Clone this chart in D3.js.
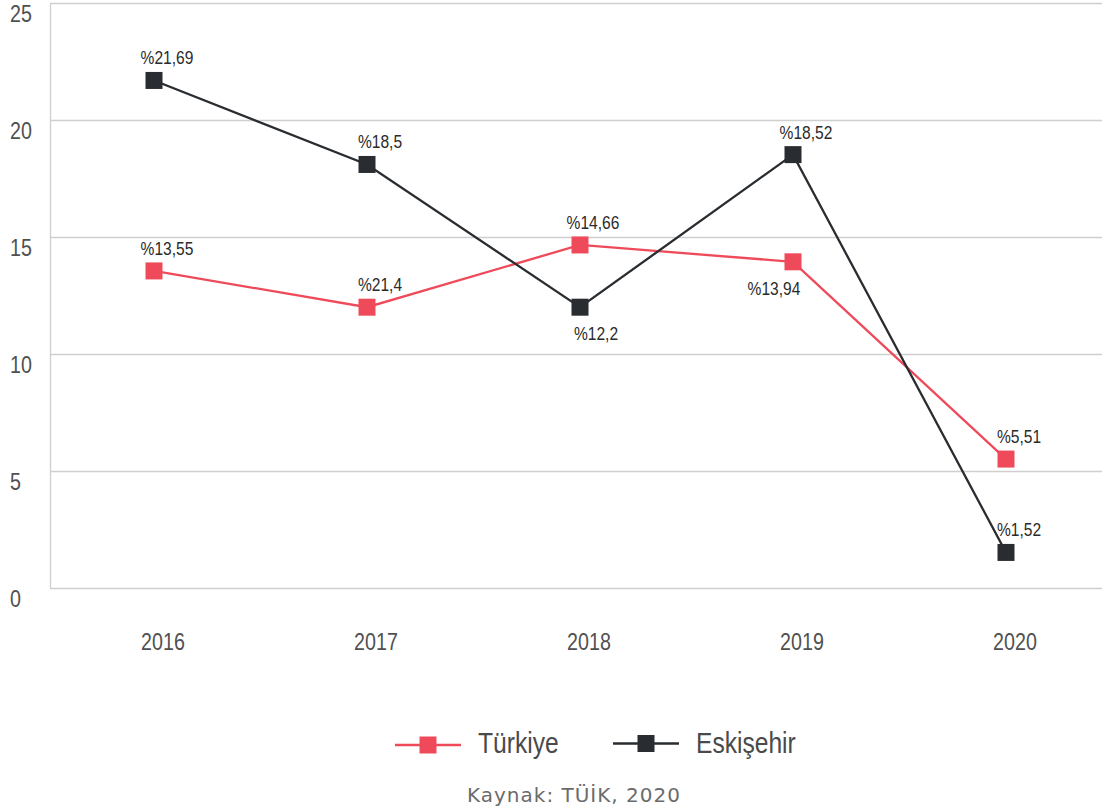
<!DOCTYPE html>
<html>
<head>
<meta charset="utf-8">
<script src="https://cdn.jsdelivr.net/npm/d3@7"></script>
<style>
  html, body { margin: 0; padding: 0; background: #fff; }
  svg { display: block; }
  .chart text { font-family: "Liberation Sans", Arial, sans-serif; }
</style>
</head>
<body>
<svg class="chart" width="1102" height="812"></svg>
<script>
// yıllar ve seriler
var years = ["2016", "2017", "2018", "2019", "2020"];
var turkiye = [13.55, 12.0, 14.66, 13.94, 5.51];
var eskisehir = [21.69, 18.1, 12.0, 18.52, 1.52];
var turkiyeLabels = ["%13,55", "%21,4", "%14,66", "%13,94", "%5,51"];
var eskisehirLabels = ["%21,69", "%18,5", "%12,2", "%18,52", "%1,52"];
var yTicks = [0, 5, 10, 15, 20, 25];
var seriesNames = ["Türkiye", "Eskişehir"];
var source = "Kaynak: TÜİK, 2020";

var svg = d3.select("svg"),
    width = +svg.attr("width"),
    height = +svg.attr("height");

var mLeft = 50, mRight = 1102, mTop = 3, mBottom = 588;
var narrow = 0.82; // squeeze to look like a condensed face

var x = d3.scalePoint()
    .domain(years)
    .range([154, 1006]);

var y = d3.scaleLinear()
    .domain([0, 25])
    .range([mBottom, mTop]);

var red = "#ef4a5a", dark = "#292d31";

function place(px, py) {
  return "translate(" + px + "," + py + ") scale(" + narrow + ",1)";
}

// grid
svg.append("g")
  .selectAll("line")
  .data(yTicks)
  .join("line")
    .attr("x1", mLeft)
    .attr("x2", mRight)
    .attr("y1", d => Math.round(y(d)) + 0.5)
    .attr("y2", d => Math.round(y(d)) + 0.5)
    .attr("stroke", "#cfcfcf")
    .attr("stroke-width", 1.3);

svg.append("line")
    .attr("x1", mLeft + 0.5).attr("x2", mLeft + 0.5)
    .attr("y1", y(25)).attr("y2", y(0))
    .attr("stroke", "#cfcfcf")
    .attr("stroke-width", 1.3);

// y labels hang under the grid line
svg.append("g")
  .selectAll("text")
  .data(yTicks)
  .join("text")
    .attr("transform", d => place(10, y(d) + 19))
    .attr("font-size", 24)
    .attr("fill", "#505050")
    .text(d => d);

// x labels
svg.append("g")
  .selectAll("text")
  .data(years)
  .join("text")
    .attr("transform", d => place(x(d) + 9, 650))
    .attr("text-anchor", "middle")
    .attr("font-size", 24)
    .attr("fill", "#505050")
    .text(d => d);

var line = d3.line()
    .x((d, i) => x(years[i]))
    .y(d => y(d));

// label placement: which points get their label below
var below = {"Eskişehir-2018": 16, "Türkiye-2019": -19};

var series = [
  {name: seriesNames[0], values: turkiye, labels: turkiyeLabels, color: red},
  {name: seriesNames[1], values: eskisehir, labels: eskisehirLabels, color: dark}
];

var ms = 17;

series.forEach(function(s) {
  var g = svg.append("g");
  g.append("path")
      .datum(s.values)
      .attr("d", line)
      .attr("fill", "none")
      .attr("stroke", s.color)
      .attr("stroke-width", 2.3);

  g.selectAll("rect")
    .data(s.values)
    .join("rect")
      .attr("x", (d, i) => x(years[i]) - ms / 2)
      .attr("y", d => y(d) - ms / 2)
      .attr("width", ms)
      .attr("height", ms)
      .attr("fill", s.color);

  g.selectAll("text")
    .data(s.values)
    .join("text")
      .attr("transform", function(d, i) {
        var k = s.name + "-" + years[i];
        return place(x(years[i]) + (k in below ? below[k] : 13),
                     y(d) + (k in below ? 33 : -16));
      })
      .attr("text-anchor", "middle")
      .attr("font-size", 19)
      .attr("fill", "#2b2b2b")
      .text((d, i) => s.labels[i]);
});

// legend
var legend = svg.append("g");
var legendItems = [
  {name: seriesNames[0], color: red, x1: 395, x2: 461, tx: 478, ly: 745},
  {name: seriesNames[1], color: dark, x1: 613, x2: 679, tx: 696, ly: 743.5}
];
legendItems.forEach(function(d) {
  legend.append("line")
      .attr("x1", d.x1).attr("x2", d.x2)
      .attr("y1", d.ly).attr("y2", d.ly)
      .attr("stroke", d.color)
      .attr("stroke-width", 2.3);
  legend.append("rect")
      .attr("x", (d.x1 + d.x2) / 2 - ms / 2)
      .attr("y", d.ly - ms / 2)
      .attr("width", ms).attr("height", ms)
      .attr("fill", d.color);
  legend.append("text")
      .attr("transform", place(d.tx, 753))
      .attr("font-size", 30)
      .attr("fill", "#4a4a4a")
      .text(d.name);
});

svg.append("text")
    .attr("x", 574)
    .attr("y", 802)
    .attr("text-anchor", "middle")
    .style("font-family", "'DejaVu Sans', sans-serif")
    .attr("font-size", 20)
    .attr("letter-spacing", 1)
    .attr("fill", "#6b6b6b")
    .text(source);
</script>
</body>
</html>
